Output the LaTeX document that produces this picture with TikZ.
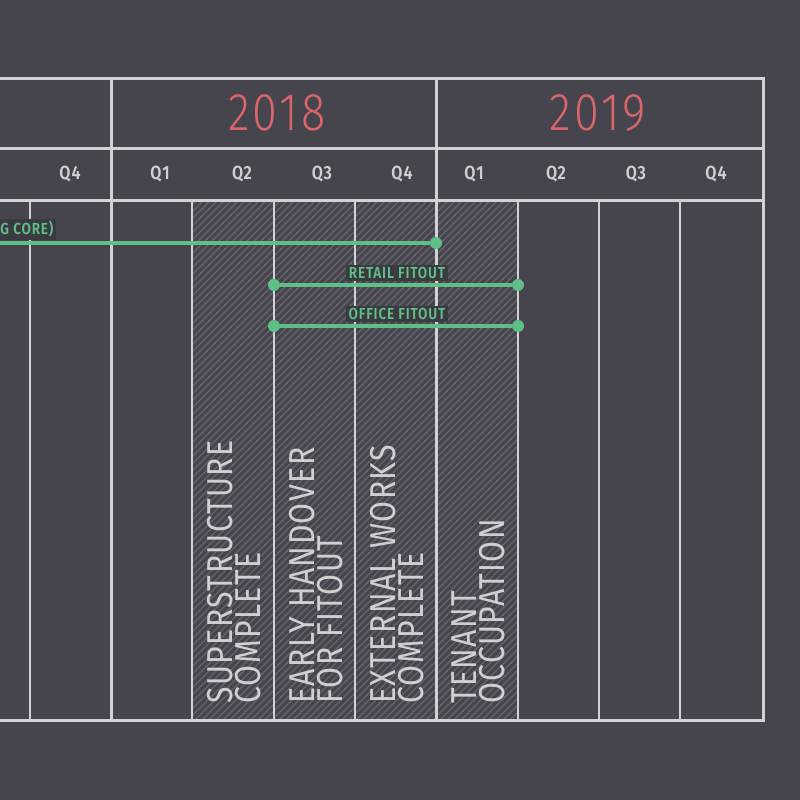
\documentclass[tikz,border=0pt]{standalone}
\usepackage{fontspec}
\setmainfont{Fira Sans}
\newfontfamily\yearfont[FakeStretch=0.85, LetterSpace=6]{Fira Sans Light}
\newfontfamily\thinfont[FakeStretch=0.84, LetterSpace=4]{Fira Sans}
\newfontfamily\heavyfont[FakeStretch=0.85, LetterSpace=5]{Fira Sans SemiBold}
\usepackage{xcolor}
\usepackage{tikz}
\usetikzlibrary{
  positioning,
}
\definecolor{board}{HTML}{46454E}
\definecolor{rule}{HTML}{D2D2D4}
\definecolor{hatch}{HTML}{66656D}
\definecolor{mint}{HTML}{5EBF87}
\definecolor{coral}{HTML}{D9676A}
\definecolor{tagbg}{HTML}{3B3A41}
\definecolor{ink}{HTML}{D0D0D2}
\tikzset{
  year/.style={font=\yearfont\fontsize{53}{53}\selectfont, text=coral},
  quarter/.style={font=\heavyfont\fontsize{19}{19}\selectfont, text=ink},
  milestone/.style={
    rotate=90,
    anchor=north west,
    inner sep=0pt,
    align=left,
    font=\thinfont\fontsize{36}{28}\selectfont,
    text=ink,
  },
  tag/.style={
    fill=tagbg,
    inner sep=2.5pt,
    font=\heavyfont\fontsize{16}{16}\selectfont,
    text=mint,
  },
  dot/.style={circle, fill=mint, inner sep=0pt, minimum size=12pt},
  bar/.style={mint, line width=3.5pt},
  frame/.style={rule, line width=3pt},
  grid/.style={rule, line width=2pt},
}

\begin{document}
\begin{tikzpicture}[x=1pt,y=-1pt]
  \useasboundingbox (0,0) rectangle (800,800);
  \fill[board] (0,0) rectangle (800,800);

  % hatched milestone band
  \begin{scope}
    \clip (192,200) rectangle (518,720);
    \foreach \x in {-330,-323,...,520} {
      \draw[hatch, line width=1.2pt] (\x,720) -- ++(520,-520);
    }
  \end{scope}

  % table
  \draw[frame] (0,78) -- (763,78) -- (763,720) -- (0,720);
  \draw[frame] (0,148) -- (763,148);
  \draw[frame] (0,200) -- (763,200);
  \draw[frame] (111,78) -- (111,720);
  \draw[frame] (436,78) -- (436,720);
  \foreach \x in {30,192,274,355,518,599,680} {
    \draw[grid] (\x,200) -- (\x,720);
  }

  % years
  \node[year] (y2018) at (277,113) {2018};
  \node[year] (y2019) at (598,113) {2019};

  % quarters
  \foreach \x/\n/\q in {70/q17d/Q4, 160/q18a/Q1, 242/q18b/Q2, 322/q18c/Q3, 402/q18d/Q4,
                        474/q19a/Q1, 556/q19b/Q2, 636/q19c/Q3, 716/q19d/Q4} {
    \node[quarter] (\n) at (\x,174) {\q};
  }

  % core bar
  \coordinate (coreStart) at (0,243);
  \node[dot] (coreEnd) at (436,243) {};
  \draw[bar] (coreStart) -- (coreEnd);
  \node[tag, anchor=south east] (coreTag) at (56,240) {G CORE)};

  % fitout bars
  \node[dot] (retailA) at (274,285) {};
  \node[dot] (retailB) at (518,285) {};
  \draw[bar] (retailA) -- (retailB);
  \node[tag] (retailTag) at (397,273) {RETAIL FITOUT};

  \node[dot] (officeA) at (274,326) {};
  \node[dot] (officeB) at (518,326) {};
  \draw[bar] (officeA) -- (officeB);
  \node[tag] (officeTag) at (397,314) {OFFICE FITOUT};

  % milestones
  \node[milestone] (superDone) at (207,704) {SUPERSTRUCTURE\\COMPLETE};
  \node[milestone] (handover) at (289,704) {EARLY HANDOVER\\FOR FITOUT};
  \node[milestone] (worksDone) at (370,704) {EXTERNAL WORKS\\COMPLETE};
  \node[milestone] (tenants) at (451,704) {TENANT\\OCCUPATION};
\end{tikzpicture}
\end{document}
